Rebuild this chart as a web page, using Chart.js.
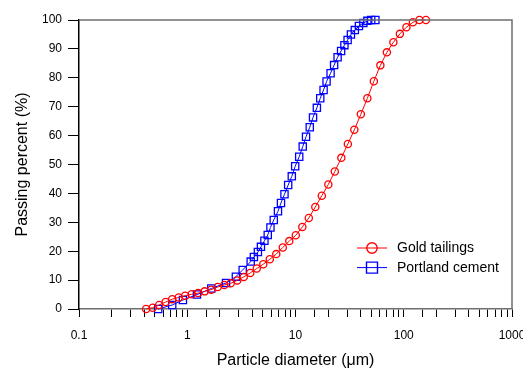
<!DOCTYPE html>
<html>
<head>
<meta charset="utf-8">
<script src="https://cdn.jsdelivr.net/npm/chart.js@4.4.1/dist/chart.umd.min.js"></script>
<style>
  html, body { margin: 0; padding: 0; background: #fff; }
  #wrap { width: 523px; height: 369px; }
</style>
</head>
<body>
<div id="wrap"><canvas id="psd"></canvas></div>
<script>
// particle size distributions
const goldSize = [0.417, 0.479, 0.550, 0.632, 0.726, 0.834, 0.957, 1.099, 1.262, 1.450, 1.665,
    1.912, 2.196, 2.522, 2.896, 3.326, 3.819, 4.386, 5.037, 5.785, 6.643, 7.629, 8.760, 10.06,
    11.56, 13.27, 15.24, 17.50, 20.10, 23.08, 26.51, 30.44, 34.96, 40.15, 46.11, 52.95, 60.81,
    69.83, 80.20, 92.10, 105.8, 121.5, 139.5, 160.2];
const goldPass = [0.0, 0.45, 1.4, 2.4, 3.4, 4.0, 4.6, 5.1, 5.5, 6.1, 6.7, 7.6, 8.3, 8.9, 9.9,
    11.1, 12.5, 14.0, 15.5, 17.2, 19.0, 21.3, 23.5, 25.5, 28.4, 31.5, 35.3, 39.2, 43.1, 47.6,
    52.3, 57.1, 62.0, 67.4, 72.9, 78.8, 84.3, 88.8, 92.3, 95.2, 97.5, 99.2, 100, 100];

const cementSize = [0.539, 0.726, 0.912, 1.230, 1.668, 2.282, 2.813, 3.251, 3.855, 4.127, 4.495,
    4.793, 5.164, 5.541, 5.869, 6.297, 6.887, 7.341, 7.910, 8.557, 9.242, 9.936, 10.82, 11.66,
    12.51, 13.54, 14.52, 15.75, 16.93, 18.17, 19.36, 21.09, 22.73, 24.48, 26.38, 28.31, 30.30,
    32.51, 35.33, 38.55, 42.37, 46.12, 50.02, 54.70];
const cementPass = [0, 1.4, 3.1, 5.0, 7.1, 9.0, 11.2, 13.5, 16.4, 18.0, 19.7, 21.5, 23.6, 25.6,
    28.2, 30.8, 33.8, 36.7, 39.7, 42.9, 45.9, 49.4, 52.7, 56.2, 59.6, 62.9, 66.3, 69.6, 72.9,
    75.8, 78.7, 81.6, 84.4, 87.1, 89.3, 91.3, 93.1, 95.0, 96.5, 97.9, 99.0, 99.7, 100, 100];

const seriesNames = ['Gold tailings', 'Portland cement'];

Chart.defaults.font.family = "Arial, 'Liberation Sans', sans-serif";
Chart.defaults.color = '#000';

function isDecade(v) {
    const l = Math.log10(v);
    return Math.abs(l - Math.round(l)) < 1e-6;
}

// top and right edges of the box
const frame = {
    id: 'frame',
    afterDraw(chart) {
        const {ctx, chartArea: a} = chart;
        ctx.save();
        ctx.strokeStyle = '#6e6e6e';
        ctx.lineWidth = 1.5;
        ctx.beginPath();
        ctx.moveTo(a.left, a.top);
        ctx.lineTo(a.right, a.top);
        ctx.lineTo(a.right, a.bottom);
        ctx.stroke();
        ctx.restore();
    }
};

// legend sitting inside the plot, line + marker + label
const insideLegend = {
    id: 'insideLegend',
    afterDraw(chart) {
        const {ctx, chartArea: a} = chart;
        ctx.save();
        chart.data.datasets.forEach((ds, i) => {
            const y = a.top + 228 + i * 19.6;
            const x0 = a.left + 278;
            const xm = x0 + 15;
            ctx.strokeStyle = ds.borderColor;
            ctx.lineWidth = 1;
            ctx.beginPath();
            ctx.moveTo(x0, y);
            ctx.lineTo(x0 + 30, y);
            ctx.stroke();
            ctx.lineWidth = 1.4;
            ctx.beginPath();
            if (ds.pointStyle === 'circle') {
                ctx.arc(xm, y, 5.2, 0, Math.PI * 2);
            } else {
                ctx.rect(xm - 5.5, y - 5.5, 11, 11);
            }
            ctx.stroke();
            ctx.fillStyle = '#000';
            ctx.font = "14px Arial, 'Liberation Sans', sans-serif";
            ctx.textBaseline = 'middle';
            ctx.textAlign = 'left';
            ctx.fillText(ds.label, x0 + 40, y + 0.5);
        });
        ctx.restore();
    }
};

new Chart(document.getElementById('psd'), {
    type: 'line',
    data: {
        datasets: [
            {
                label: seriesNames[0],
                data: goldSize.map((d, i) => ({x: d, y: goldPass[i]})),
                borderColor: '#ff0000',
                borderWidth: 1,
                pointStyle: 'circle',
                pointRadius: 3.6,
                pointBorderWidth: 1.3,
                pointBackgroundColor: 'rgba(0,0,0,0)',
                pointBorderColor: '#ff0000',
                clip: false
            },
            {
                label: seriesNames[1],
                data: cementSize.map((d, i) => ({x: d, y: cementPass[i]})),
                borderColor: '#0000ff',
                borderWidth: 1,
                pointStyle: 'rect',
                pointRadius: 5.1,
                pointBorderWidth: 1.3,
                pointBackgroundColor: 'rgba(0,0,0,0)',
                pointBorderColor: '#0000ff',
                clip: false
            }
        ]
    },
    options: {
        responsive: true,
        maintainAspectRatio: false,
        animation: false,
        devicePixelRatio: 1,
        layout: { padding: { left: 0, top: 20, right: 11, bottom: 0 } },
        plugins: {
            legend: { display: false },
            tooltip: { enabled: false }
        },
        scales: {
            x: {
                type: 'logarithmic',
                min: 0.1,
                max: 1000,
                border: { display: true, color: '#6e6e6e', width: 1.5 },
                grid: { drawOnChartArea: false, drawTicks: true, tickLength: 8, tickColor: '#000' },
                ticks: {
                    autoSkip: false,
                    maxRotation: 0,
                    padding: 11,
                    font: { size: 12 },
                    callback: v => isDecade(v) ? String(Math.round(v * 10) / 10) : ''
                },
                title: {
                    display: true,
                    text: 'Particle diameter (μm)',
                    font: { size: 16 },
                    padding: { top: 0, bottom: -1 }
                },
                afterFit: s => { s.height = 60; s.paddingLeft = 0; s.paddingRight = 0; }
            },
            y: {
                min: 0,
                max: 100,
                border: { display: true, color: '#000', width: 1.5 },
                grid: { drawOnChartArea: false, drawTicks: true, tickLength: 11, tickColor: '#000' },
                ticks: {
                    stepSize: 5,
                    padding: 6,
                    font: { size: 12 },
                    callback: v => v % 10 === 0 ? String(v) : ''
                },
                title: {
                    display: true,
                    text: 'Passing percent (%)',
                    font: { size: 16 },
                    padding: { top: 13, bottom: 0 }
                },
                afterFit: s => { s.width = 79; s.paddingTop = 0; s.paddingBottom = 0; }
            }
        }
    },
    plugins: [frame, insideLegend]
});
</script>
</body>
</html>
